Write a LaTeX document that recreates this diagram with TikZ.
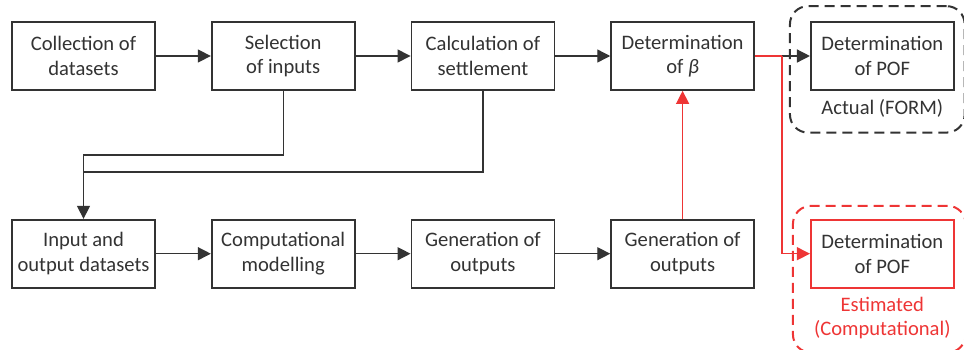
\documentclass[tikz,border=0pt]{standalone}
\usepackage{fontspec}
\setmainfont{Carlito}
\usepackage{tikz}
\usetikzlibrary{arrows.meta,positioning,fit,calc,backgrounds}
\definecolor{grisfonce}{HTML}{333333}
\definecolor{rougevif}{HTML}{EE3535}

\begin{document}
\begin{tikzpicture}[
    x=0.5pt, y=-0.5pt,
    font=\fontsize{10.3}{12.3}\selectfont, text=grisfonce,
    node distance=27.5pt,
    boite/.style={rectangle, draw=grisfonce, line width=0.85pt, fill=white,
      minimum width=71.5pt, minimum height=34pt, inner xsep=1pt,
      align=center},
    lien/.style={draw=grisfonce, line width=0.7pt},
    fleche/.style={lien, -{Triangle[length=6.5pt,width=6.5pt]}},
    rouge/.style={draw=rougevif, line width=0.65pt},
    flecherouge/.style={rouge, -{Triangle[length=6.5pt,width=6.5pt]}},
    cadre/.style={rectangle, rounded corners=9pt, line width=1pt,
      dash pattern=on 5pt off 3pt}
  ]
    \useasboundingbox (0,0) rectangle (964,349);
    % ligne du haut
    \node[boite] (coll) at (83.5,56) {Collection of\\datasets};
    \node[boite, right=of coll] (sel) {Selection\\of inputs};
    \node[boite, right=of sel] (calc) {Calculation of\\settlement};
    \node[boite, right=of calc] (beta) {Determination\\of \textit{β}};
    \node[boite, right=of beta] (pofA) {Determination\\of POF};
    \node[below=4pt of pofA, inner sep=0pt] (actual) {Actual (FORM)};
    % ligne du bas
    \node[boite, below=64pt of coll] (inp) {Input and\\output datasets};
    \node[boite, right=of inp] (mod) {Computational\\modelling};
    \node[boite, right=of mod] (gen) {Generation of\\outputs};
    \node[boite, right=of gen] (genB) {Generation of\\outputs};
    \node[boite, draw=rougevif, right=of genB] (pofE) {Determination\\of POF};
    \node[below=4pt of pofE, inner sep=0pt, text=rougevif, align=center]
      (estim) {Estimated\\(Computational)};
    % cadres
    \node[cadre, draw=grisfonce, fit=(pofA)(actual), inner xsep=7.5pt,
      inner ysep=7.5pt, xshift=-2.5pt] (cadreA) {};
    \node[cadre, draw=rougevif, fit=(pofE)(estim), inner xsep=7pt,
      inner ysep=6.5pt, xshift=-1.5pt] (cadreE) {};
    % liens
    \draw[fleche] (coll) -- (sel);
    \draw[fleche] (sel) -- (calc);
    \draw[fleche] (calc) -- (beta);
    \draw[fleche] (beta) -- (pofA);
    \draw[fleche] (inp) -- (mod);
    \draw[fleche] (mod) -- (gen);
    \draw[fleche] (gen) -- (genB);
    \coordinate (jonction) at ($(inp.north)+(0,-47)$);
    \draw[fleche] (sel.south) -- ++(0,64) -| (inp.north);
    \draw[lien] (calc.south) |- (jonction);
    \coordinate (partage) at ($(beta.east)+(27,0)$);
    \draw[rouge] (beta.east) -- (partage);
    \draw[flecherouge] (partage) |- (pofE.west);
    \draw[flecherouge] (genB.north) -- (beta.south);
  \end{tikzpicture}
\end{document}
